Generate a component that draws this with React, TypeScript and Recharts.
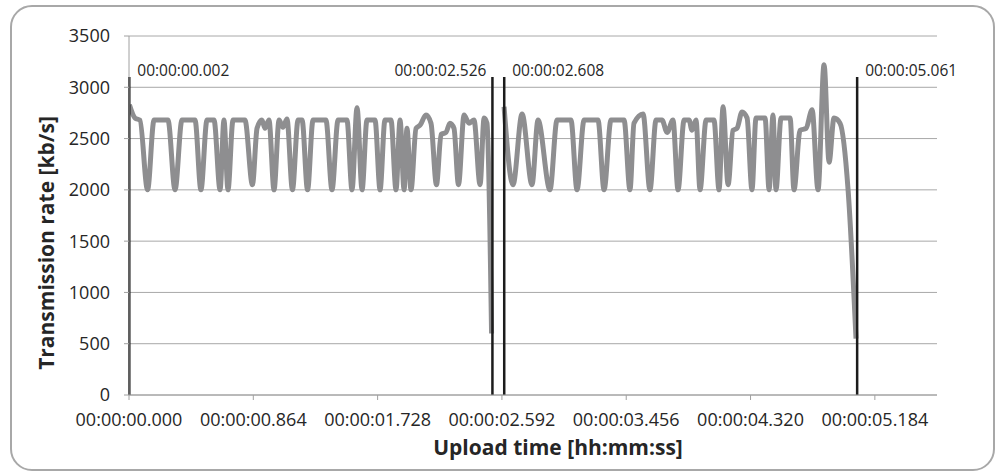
import React from 'react';
import { LineChart, Line, XAxis, YAxis, CartesianGrid, ReferenceLine } from 'recharts';

// upload time in seconds, transmission rate in kb/s
const seg1Time = [
  0.003, 0.042, 0.076, 0.129, 0.174, 0.271, 0.320, 0.368, 0.459, 0.500, 0.542, 0.591, 0.633, 0.660,
  0.688, 0.723, 0.806, 0.858, 0.890, 0.924, 0.945, 0.973, 1.008, 1.043, 1.070, 1.098, 1.136, 1.175,
  1.203, 1.241, 1.279, 1.369, 1.411, 1.453, 1.515, 1.550, 1.585, 1.620, 1.654, 1.710, 1.745, 1.779,
  1.821, 1.856, 1.884, 1.912, 1.932, 1.960, 1.995, 2.023, 2.064, 2.099, 2.137, 2.169, 2.203, 2.231,
  2.259, 2.290, 2.329, 2.363, 2.398, 2.440, 2.468, 2.488, 2.520,
];
const seg1Rate = [
  2830, 2700, 2680, 2000, 2680, 2680, 2000, 2680, 2680, 2000, 2680, 2680, 2000, 2680,
  2000, 2680, 2680, 2050, 2600, 2680, 2600, 2680, 2000, 2680, 2610, 2690, 2000, 2680,
  2680, 2000, 2680, 2680, 2000, 2680, 2680, 2000, 2800, 2000, 2680, 2680, 2000, 2680,
  2680, 2000, 2680, 2000, 2600, 2000, 2600, 2630, 2730, 2650, 2050, 2540, 2560, 2650,
  2600, 2050, 2730, 2650, 2680, 2050, 2700, 2650, 600,
];
const seg2Time = [
  2.607, 2.669, 2.732, 2.801, 2.843, 2.926, 2.975, 3.072, 3.114, 3.163, 3.260, 3.302, 3.350, 3.441,
  3.482, 3.510, 3.573, 3.621, 3.663, 3.705, 3.740, 3.781, 3.816, 3.858, 3.893, 3.913, 3.941, 3.969,
  4.011, 4.066, 4.101, 4.129, 4.164, 4.198, 4.226, 4.261, 4.296, 4.330, 4.358, 4.421, 4.449, 4.476,
  4.497, 4.532, 4.595, 4.622, 4.664, 4.706, 4.748, 4.789, 4.831, 4.866, 4.900, 4.942, 4.998, 5.053,
];
const seg2Rate = [
  2810, 2050, 2740, 2050, 2680, 2000, 2680, 2680, 2000, 2680, 2680, 2000, 2680, 2680,
  2000, 2650, 2740, 2000, 2680, 2680, 2560, 2680, 2000, 2680, 2680, 2580, 2680, 2000,
  2680, 2680, 2000, 2810, 2050, 2580, 2600, 2760, 2700, 2000, 2700, 2700, 2000, 2730,
  2000, 2700, 2700, 2000, 2580, 2600, 2780, 2000, 3220, 2270, 2700, 2650, 2000, 550,
];

const markerTimes = [0.002, 2.526, 2.608, 5.061];
const markerLabels = ['00:00:00.002', '00:00:02.526', '00:00:02.608', '00:00:05.061'];
const markerSide = ['right', 'left', 'right', 'right'];
const markerTop = 3100;

const xTicks = [0, 0.864, 1.728, 2.592, 3.456, 4.32, 5.184];
const yTicks = [0, 500, 1000, 1500, 2000, 2500, 3000, 3500];

const seg1 = seg1Time.map((t, i) => ({ time: t, rate: seg1Rate[i] }));
const seg2 = seg2Time.map((t, i) => ({ time: t, rate: seg2Rate[i] }));

const fmtTime = (t: number) => `00:00:${t.toFixed(3).padStart(6, '0')}`;

const FONT = '"Open Sans", sans-serif';
const TEXT = '#262626';

const markerLabel = (i: number) => (props: any) => {
  const { viewBox } = props;
  const right = markerSide[i] === 'right';
  return (
    <text
      x={viewBox.x + (right ? 8 : -6)}
      y={viewBox.y - 6}
      dy="0.35em"
      textAnchor={right ? 'start' : 'end'}
      fontFamily={FONT}
      fontSize={15.5}
      fill={TEXT}
    >
      {markerLabels[i]}
    </text>
  );
};

export default function App() {
  return (
    <div style={{ position: 'absolute', left: 0, top: 0, width: 997, height: 473, background: '#fff', overflow: 'hidden' }}>
      <div
        style={{
          position: 'absolute',
          left: 10,
          top: 5,
          width: 981,
          height: 462,
          border: '2px solid #a8a8a8',
          borderRadius: 22,
        }}
      />
      <div style={{ position: 'absolute', left: 0, top: 0 }}>
        <LineChart width={997} height={473} margin={{ top: 36, right: 60, bottom: 28, left: 69 }}>
          <CartesianGrid horizontal vertical={false} stroke="#a8a8a8" strokeWidth={1} />
          <XAxis
            dataKey="time"
            type="number"
            domain={[0, 5.616]}
            ticks={xTicks}
            tickFormatter={fmtTime}
            height={50}
            stroke="#a0a0a0"
            tickSize={5}
            tickMargin={13}
            tick={{ fill: TEXT, fontFamily: FONT, fontSize: 18 }}
            allowDataOverflow
            label={(props: any) => (
              <text
                x={558}
                y={448}
                dy="0.35em"
                textAnchor="middle"
                fontFamily={FONT}
                fontWeight="bold"
                fontSize={21}
                fill={TEXT}
              >
                Upload time [hh:mm:ss]
              </text>
            )}
          />
          <YAxis
            type="number"
            domain={[0, 3500]}
            ticks={yTicks}
            width={60}
            stroke="#a0a0a0"
            tickSize={5}
            tickMargin={14}
            tick={{ fill: TEXT, fontFamily: FONT, fontSize: 18 }}
            label={(props: any) => (
              <text
                x={47}
                y={243}
                dy="0.35em"
                textAnchor="middle"
                transform="rotate(-90 47 243)"
                fontFamily={FONT}
                fontWeight="bold"
                fontSize={21}
                fill={TEXT}
              >
                Transmission rate [kb/s]
              </text>
            )}
          />
          <Line
            data={seg1}
            dataKey="rate"
            type="monotone"
            stroke="#8e8e90"
            strokeWidth={5}
            strokeLinejoin="round"
            dot={false}
            activeDot={false}
            isAnimationActive={false}
          />
          <Line
            data={seg2}
            dataKey="rate"
            type="monotone"
            stroke="#8e8e90"
            strokeWidth={5}
            strokeLinejoin="round"
            dot={false}
            activeDot={false}
            isAnimationActive={false}
          />
          {markerTimes.map((t, i) => (
            <ReferenceLine
              key={t}
              segment={[{ x: t, y: 0 }, { x: t, y: markerTop }]}
              stroke="#1c1c1c"
              strokeWidth={2.5}
              label={markerLabel(i)}
            />
          ))}
        </LineChart>
      </div>
    </div>
  );
}
